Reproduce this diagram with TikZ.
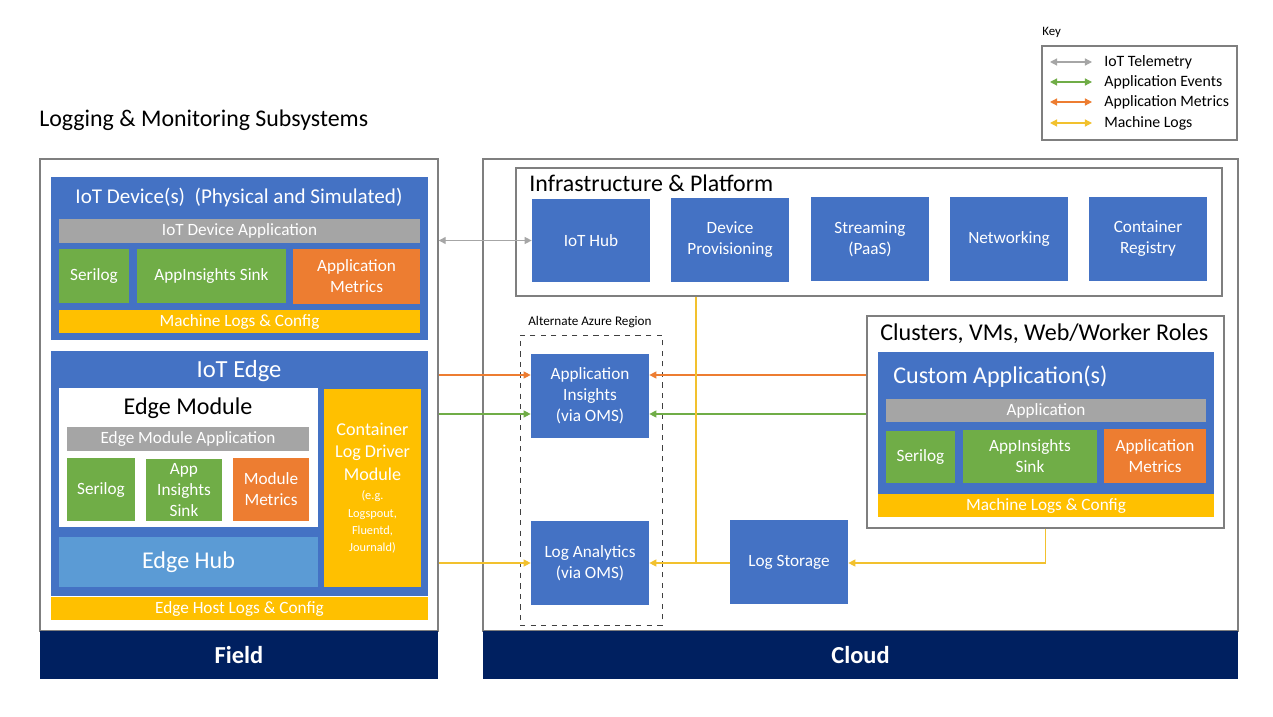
\documentclass[tikz,border=0pt]{standalone}
\usepackage{fontspec}
\setmainfont{Carlito}
\usetikzlibrary{fit,arrows.meta}
\definecolor{azblue}{HTML}{4472C4}
\definecolor{azlight}{HTML}{5B9BD5}
\definecolor{azgreen}{HTML}{70AD47}
\definecolor{azorange}{HTML}{ED7D31}
\definecolor{azyellow}{HTML}{FFC000}
\definecolor{azgray}{HTML}{A5A5A5}
\definecolor{aznavy}{HTML}{002060}
\definecolor{azframe}{HTML}{7F7F7F}
\definecolor{tgray}{HTML}{A6A6A6}
\definecolor{tgreen}{HTML}{70AD47}
\definecolor{torange}{HTML}{ED7D31}
\definecolor{tyellow}{HTML}{F2C12E}
\begin{document}
\begin{tikzpicture}[x=0.02cm, y=-0.02cm,
	blk/.style = {fill = #1, inner sep = 0},
	txt/.style = {text = white, align = center, font = \fontsize{9.8}{12}\selectfont},
	big/.style = {text = white, align = center, font = \fontsize{13.7}{16}\selectfont},
	frame/.style = {draw = azframe, line width = .8pt, fill = white, inner sep = 0},
	band/.style = {fill = aznavy, inner sep = 0},
	bandtxt/.style = {text = white, font = \fontsize{13.9}{16}\selectfont\bfseries},
	title/.style = {anchor = west, inner sep = 0, font = \fontsize{13.6}{16}\selectfont},
	flow/.style = {line width = .7pt, -{Triangle[length = 4pt, width = 4pt]}},
	both/.style = {line width = .7pt, {Triangle[length = 4pt, width = 4pt]}-{Triangle[length = 4pt, width = 4pt]}},
	keytxt/.style = {anchor = west, inner sep = 0, font = \fontsize{9}{10}\selectfont}]
	\useasboundingbox (0, 0) rectangle (1273, 716);

	% heading and key
	\node [title] (head) at (39, 120) {Logging \& Monitoring Subsystems};
	\node [anchor = west, inner sep = 0, font = \fontsize{7.3}{8}\selectfont] (keyhead) at (1042, 32) {Key};
	\node [frame, fit = {(1042, 46) (1237, 140)}] (key) {};
	\node [keytxt] (k1) at (1104, 62) {IoT Telemetry};
	\node [keytxt] (k2) at (1104, 82) {Application Events};
	\node [keytxt] (k3) at (1104, 102) {Application Metrics};
	\node [keytxt] (k4) at (1104, 123) {Machine Logs};
	\draw [both, tgray] ([xshift = -.24cm] k1.west) -- ++(-42, 0);
	\draw [both, tgreen] ([xshift = -.24cm] k2.west) -- ++(-42, 0);
	\draw [both, torange] ([xshift = -.24cm] k3.west) -- ++(-42, 0);
	\draw [both, tyellow] ([xshift = -.24cm] k4.west) -- ++(-42, 0);

	% field side
	\node [frame, fit = {(40, 159) (438, 631)}] (field) {};
	\node [band, fit = {(40, 631) (438, 679)}, label = {[bandtxt]center:Field}] (fieldband) {};

	\node [blk = azblue, fit = {(51, 177) (428, 340)}] (device) {};
	\node [big, inner sep = 0, font = \fontsize{12}{14}\selectfont] (devtitle) at (239, 197) {IoT Device(s)\ \ (Physical and Simulated)};
	\node [blk = azgray, fit = {(59, 219) (420, 243)}, label = {[txt]center:IoT Device Application}] (devapp) {};
	\node [blk = azgreen, fit = {(59, 249) (129, 303)}, label = {[txt]center:Serilog}] (devserilog) {};
	\node [blk = azgreen, fit = {(137, 249) (286, 303)}, label = {[txt]center:AppInsights Sink}] (devsink) {};
	\node [blk = azorange, fit = {(293, 249) (420, 304)}, label = {[txt]center:Application\\Metrics}] (devmetrics) {};
	\node [blk = azyellow, fit = {(59, 310) (420, 333)}, label = {[txt]center:Machine Logs \& Config}] (devlogs) {};

	\node [blk = azblue, fit = {(51, 351) (428, 596)}] (edge) {};
	\node [big, inner sep = 0, font = \fontsize{14}{16}\selectfont] (edgetitle) at (239, 371) {IoT Edge};
	\node [blk = white, fit = {(59, 388) (318, 527)}] (module) {};
	\node [big, text = black, inner sep = 0] (modtitle) at (188, 408) {Edge Module};
	\node [blk = azgray, fit = {(67, 427) (309, 451)}, label = {[txt]center:Edge Module Application}] (modapp) {};
	\node [blk = azgreen, fit = {(67, 458) (135, 521)}, label = {[txt]center:Serilog}] (modserilog) {};
	\node [blk = azgreen, fit = {(146, 459) (222, 521)}, label = {[txt]center:App\\Insights\\Sink}] (modsink) {};
	\node [blk = azorange, fit = {(233, 458) (309, 521)}, label = {[txt]center:Module\\Metrics}] (modmetrics) {};
	\node [blk = azlight, fit = {(59, 537) (318, 587)}, label = {[big]center:Edge Hub}] (edgehub) {};
	\node [blk = azyellow, fit = {(324, 389) (421, 587)}, label = {[txt, font = \fontsize{10.3}{12.8}\selectfont]center:Container\\Log Driver\\Module\\[-1.5pt]
		{\fontsize{7}{9}\selectfont (e.g.}\\[-3pt]{\fontsize{7}{9}\selectfont Logspout,}\\[-3pt]{\fontsize{7}{9}\selectfont Fluentd,}\\[-3pt]{\fontsize{7}{9}\selectfont Journald)}}] (logdriver) {};
	\node [blk = azyellow, fit = {(51, 597) (428, 620)}, label = {[txt]center:Edge Host Logs \& Config}] (hostlogs) {};

	% cloud side
	\node [frame, fit = {(483, 159) (1238, 631)}] (cloud) {};
	\node [band, fit = {(483, 631) (1238, 679)}, label = {[bandtxt]center:Cloud}] (cloudband) {};

	\node [frame, fit = {(516, 168) (1222, 296)}] (infra) {};
	\node [title] (infratitle) at (529, 183) {Infrastructure \& Platform};
	\node [blk = azblue, fit = {(532, 199) (650, 282)}, label = {[txt]center:IoT Hub}] (hub) {};
	\node [blk = azblue, fit = {(671, 198) (789, 282)}, label = {[txt]center:Device\\Provisioning}] (dps) {};
	\node [blk = azblue, fit = {(811, 197) (929, 281)}, label = {[txt]center:Streaming\\(PaaS)}] (stream) {};
	\node [blk = azblue, fit = {(950, 197) (1068, 281)}, label = {[txt]center:Networking}] (net) {};
	\node [blk = azblue, fit = {(1089, 197) (1207, 281)}, label = {[txt]center:Container\\Registry}] (registry) {};

	\node [anchor = west, inner sep = 0, font = \fontsize{7.5}{9}\selectfont] (alttitle) at (528, 322) {Alternate Azure Region};
	\node [draw = black!75, dashed, inner sep = 0, fit = {(520, 335) (662, 625)}] (alt) {};
	\node [blk = azblue, fit = {(531, 354) (649, 438)}, label = {[txt]center:Application\\Insights\\(via OMS)}] (ai) {};
	\node [blk = azblue, fit = {(531, 521) (649, 605)}, label = {[txt]center:Log Analytics\\(via OMS)}] (la) {};

	\node [frame, fit = {(867, 316) (1224, 528)}] (clusters) {};
	\node [title, font = \fontsize{13.7}{16}\selectfont] (cltitle) at (880, 334) {Clusters, VMs, Web/Worker Roles};
	\node [blk = azblue, fit = {(878, 352) (1214, 494)}] (custom) {};
	\node [big, anchor = west, inner sep = 0] (custitle) at (893, 377) {Custom Application(s)};
	\node [blk = azgray, fit = {(886, 399) (1206, 422)}, label = {[txt]center:Application}] (cusapp) {};
	\node [blk = azgreen, fit = {(886, 431) (955, 483)}, label = {[txt]center:Serilog}] (cusserilog) {};
	\node [blk = azgreen, fit = {(963, 430) (1097, 483)}, label = {[txt]center:AppInsights\\Sink}] (cussink) {};
	\node [blk = azorange, fit = {(1104, 429) (1206, 483)}, label = {[txt]center:Application\\Metrics}] (cusmetrics) {};
	\node [blk = azyellow, fit = {(878, 494) (1214, 517)}, label = {[txt]center:Machine Logs \& Config}] (cuslogs) {};

	\node [blk = azblue, fit = {(730, 520) (848, 604)}, label = {[txt]center:Log Storage}] (storage) {};

	% connectors
	\coordinate (metricrow) at (0, 375);
	\coordinate (eventrow) at (0, 414);
	\coordinate (join) at (696, 563);
	\draw [both, tgray] (field.east |- hub.west) -- (hub.west);
	\draw [flow, torange] (field.east |- metricrow) -- (ai.west |- metricrow);
	\draw [flow, tgreen] (field.east |- eventrow) -- (ai.west |- eventrow);
	\draw [flow, tyellow] (field.east |- la.west) -- (la.west);
	\draw [flow, torange] (clusters.west |- metricrow) -- (ai.east |- metricrow);
	\draw [flow, tgreen] (clusters.west |- eventrow) -- (ai.east |- eventrow);
	\draw [tyellow, line width = .7pt] (infra.south -| join) -- (join);
	\draw [flow, tyellow] (storage.west |- la.east) -- (la.east);
	\draw [flow, tyellow] (clusters.south) |- (storage.east |- la.east);
\end{tikzpicture}
\end{document}
